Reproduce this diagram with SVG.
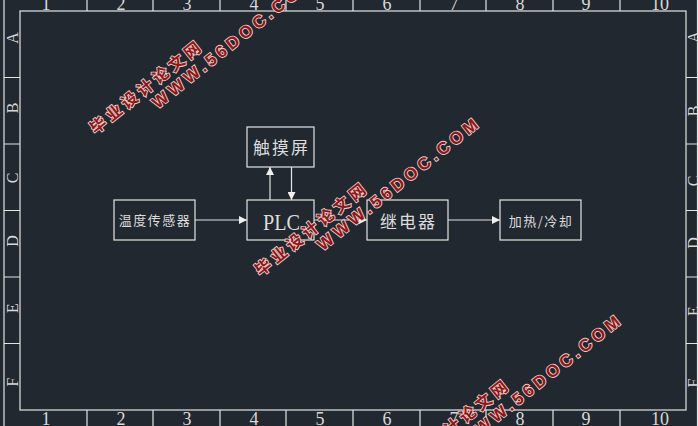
<svg xmlns="http://www.w3.org/2000/svg" width="698" height="426" viewBox="0 0 698 426">
<defs>
<style>
.ln{stroke:#e4e4e4;stroke-width:1.2;fill:none}
.box{stroke:#e4e4e4;stroke-width:1.2;fill:none}
.cn{font-family:"Noto Sans CJK SC","Noto Sans",sans-serif;fill:#dcdcdc;text-anchor:middle}
.lab{font-family:"Liberation Serif",serif;fill:#d8d8d8;font-size:18px;text-anchor:middle}
.con{stroke:#e4e4e4;stroke-width:1.2;fill:none;marker-end:url(#ah)}
.wcn{font-family:"Noto Sans CJK SC",sans-serif;font-weight:bold;font-size:16px;letter-spacing:4px;fill:#8e1717;stroke:#eccaca;stroke-width:1.8;paint-order:stroke fill}
.wen{font-family:"Liberation Sans",Arial,sans-serif;font-weight:bold;font-size:17px;fill:#8e1717;stroke:#eccaca;stroke-width:1.8;paint-order:stroke fill}
</style>
<marker id="ah" viewBox="0 0 8 8" markerWidth="8" markerHeight="8" refX="8" refY="4" orient="auto" markerUnits="userSpaceOnUse">
<path d="M0,0 L8,4 L0,8 z" fill="#f0f0f0"/>
</marker>
</defs>
<rect x="0" y="0" width="698" height="426" fill="#212830"/>
<g id="frame">
<rect class="ln" x="20" y="11" width="666" height="399"/>
<line class="ln" x1="4" y1="0" x2="4" y2="426"/>
<line class="ln" x1="697.5" y1="0" x2="697.5" y2="426"/>
<path class="ln" d="M87,0V11M153,0V11M220,0V11M286,0V11M353,0V11M420,0V11M486,0V11M553,0V11M620,0V11"/>
<path class="ln" d="M87,410V426M153,410V426M220,410V426M286,410V426M353,410V426M420,410V426M486,410V426M553,410V426M620,410V426"/>
<path class="ln" d="M4,77.5H20M4,144H20M4,210.5H20M4,277H20M4,343.5H20"/>
<path class="ln" d="M686,77.5H698M686,144H698M686,210.5H698M686,277H698M686,343.5H698"/>
<g class="lab">
<text x="46" y="10">1</text><text x="121" y="10">2</text><text x="187" y="10">3</text><text x="254" y="10">4</text><text x="320" y="10">5</text><text x="387" y="10">6</text><text x="454" y="10">7</text><text x="520" y="10">8</text><text x="586" y="10">9</text><text x="660" y="10">10</text>
<text x="46" y="425">1</text><text x="121" y="425">2</text><text x="187" y="425">3</text><text x="254" y="425">4</text><text x="320" y="425">5</text><text x="387" y="425">6</text><text x="454" y="425">7</text><text x="520" y="425">8</text><text x="586" y="425">9</text><text x="660" y="425">10</text>
</g>
<g class="lab" style="font-size:16px">
<text transform="translate(18,38) rotate(-90)">A</text>
<text transform="translate(18,108) rotate(-90)">B</text>
<text transform="translate(18,178) rotate(-90)">C</text>
<text transform="translate(18,241) rotate(-90)">D</text>
<text transform="translate(18,308) rotate(-90)">E</text>
<text transform="translate(18,382) rotate(-90)">F</text>
<text transform="translate(699,37) rotate(-90)">A</text>
<text transform="translate(699,111) rotate(-90)">B</text>
<text transform="translate(699,181) rotate(-90)">C</text>
<text transform="translate(699,243) rotate(-90)">D</text>
<text transform="translate(699,311) rotate(-90)">E</text>
<text transform="translate(699,383) rotate(-90)">F</text>
</g>
</g>
<g id="connectors">
<line class="con" x1="195" y1="220" x2="247" y2="220"/>
<line class="con" x1="270" y1="200" x2="270" y2="167"/>
<line class="con" x1="291.5" y1="167" x2="291.5" y2="200"/>
<line class="con" x1="314" y1="220" x2="367" y2="220"/>
<line class="con" x1="448" y1="220" x2="500" y2="220"/>
</g>
<g id="sensor">
<rect class="box" x="114" y="200" width="81" height="40"/>
<text class="cn" x="155" y="225" style="font-size:13px;letter-spacing:1.5px">温度传感器</text>
</g>
<g id="touch">
<rect class="box" x="247" y="127" width="67" height="40"/>
<text class="cn" x="281.5" y="154" style="font-size:17px;letter-spacing:2px">触摸屏</text>
</g>
<g id="plc">
<rect class="box" x="247" y="200" width="67" height="40"/>
<text x="281.5" y="230" font-family="Liberation Serif,serif" font-size="24" fill="#dcdcdc" text-anchor="middle" textLength="37" lengthAdjust="spacingAndGlyphs">PLC</text>
</g>
<g id="relay">
<rect class="box" x="367" y="200" width="81" height="40"/>
<text class="cn" x="408.5" y="227.5" style="font-size:17px;letter-spacing:2px">继电器</text>
</g>
<g id="heat">
<rect class="box" x="500" y="200" width="81" height="40"/>
<text class="cn" x="541" y="226" style="font-size:13px;letter-spacing:1.5px">加热/冷却</text>
</g>
<g id="watermarks">
<g transform="translate(98,125) rotate(-38.5)">
<text class="wcn" x="-8" y="6">毕业设计论文网</text>
<text class="wen" x="56.5" y="25" textLength="200" lengthAdjust="spacing">WWW.56DOC.COM</text>
</g>
<g transform="translate(263,267) rotate(-38.5)">
<text class="wcn" x="-8" y="6">毕业设计论文网</text>
<text class="wen" x="56.5" y="25" textLength="200" lengthAdjust="spacing">WWW.56DOC.COM</text>
</g>
<g transform="translate(405,464) rotate(-38.5)">
<text class="wcn" x="-8" y="6">毕业设计论文网</text>
<text class="wen" x="56.5" y="25" textLength="200" lengthAdjust="spacing">WWW.56DOC.COM</text>
</g>
</g>
</svg>
